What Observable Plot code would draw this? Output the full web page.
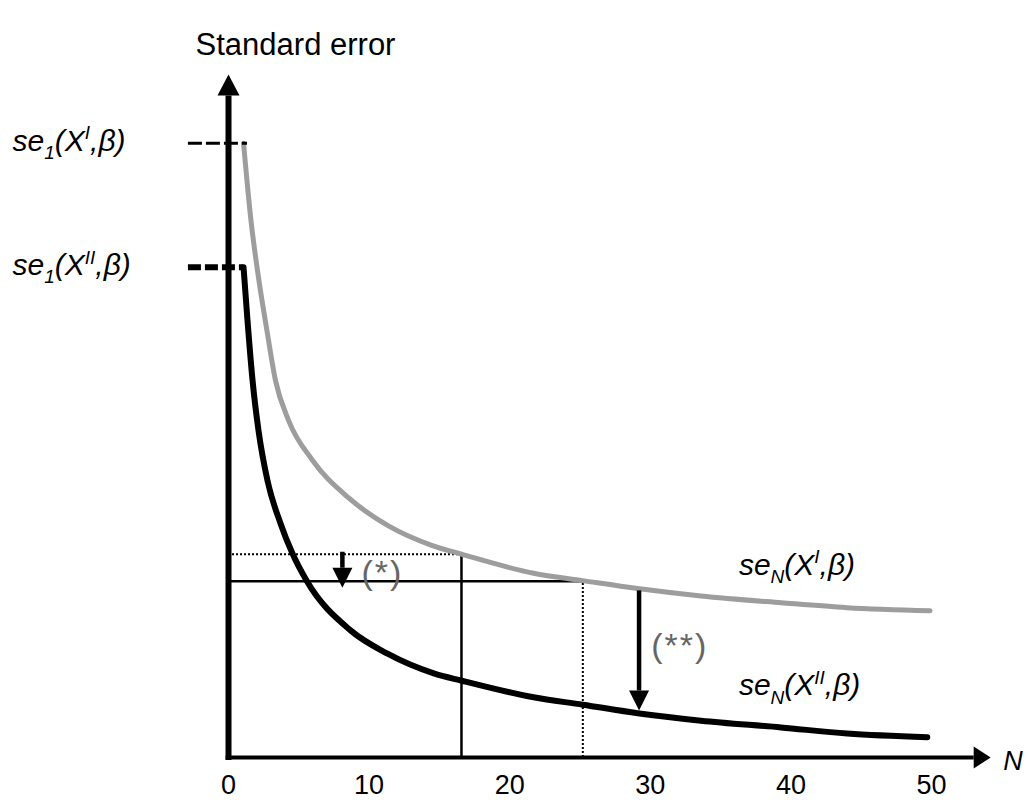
<!DOCTYPE html>
<html>
<head>
<meta charset="utf-8">
<script src="https://cdn.jsdelivr.net/npm/d3@7"></script>
<script src="https://cdn.jsdelivr.net/npm/@observablehq/plot@0.6"></script>
<style>
  html, body { margin: 0; padding: 0; background: #fff; }
  #chart { width: 1028px; height: 800px; overflow: hidden; }
</style>
</head>
<body>
<div id="chart"></div>
<script>
// ---- data (N, standard error in arbitrary units) ----
const greyN  = [1.07, 1.6, 2.06, 2.77, 3.34, 4.27, 5.97, 8.53, 11.38, 14.5, 16.57, 21.7, 25.2, 29.1, 33.6, 39.3, 44.0, 49.9];
const greySE = [1.0, 0.874, 0.793, 0.690, 0.614, 0.549, 0.484, 0.423, 0.377, 0.345, 0.331, 0.300, 0.288, 0.275, 0.263, 0.252, 0.244, 0.239];

const blackN  = [1.07, 1.35, 1.71, 2.13, 2.77, 3.7, 4.55, 5.55, 8.68, 11.31, 14.6, 16.6, 21.7, 25.2, 29.1, 33.6, 39.3, 44.0, 49.7];
const blackSE = [0.798, 0.712, 0.614, 0.533, 0.451, 0.381, 0.332, 0.288, 0.207, 0.169, 0.137, 0.125, 0.098, 0.086, 0.072, 0.060, 0.049, 0.039, 0.033];

const xTicks = [0, 10, 20, 30, 40, 50];

// starting values se_1 shown by the dashes at the left
const se1Values = [1.0, 0.798];
const se1Labels = ["se_{1}(X^{I},β)", "se_{1}(X^{II},β)"];
const se1DashFrom = [-2.85, -2.85];
const se1DashTo = [1.35, 1.07];

// guide lines
const dottedH = {se: 0.331, from: 0, to: 16.57};
const solidH  = {se: 0.287, from: 0, to: 25.2};
const solidV  = {N: 16.57, from: 0, to: 0.331};
const dottedV = {N: 25.2, from: 0, to: 0.287};

// down arrows (*) and (**)
const arrowN    = [8.1, 29.2];
const arrowFrom = [0.335, 0.272];
const arrowBase = [0.309, 0.109];
const arrowText = ["(*)", "(**)"];
const arrowTextN  = [10.95, 32.1];
const arrowTextSE = [0.300, 0.182];

// right-hand curve labels
const endLabels  = ["se_{N}(X^{I},β)", "se_{N}(X^{II},β)"];
const endLabelN  = [36.3, 36.3];
const endLabelSE = [0.313, 0.117];

// ---- tables built from the arrays ----
const grey = greyN.map((n, i) => ({N: n, se: greySE[i]}));
const black = blackN.map((n, i) => ({N: n, se: blackSE[i]}));
const se1 = se1Values.map((v, i) => ({se: v, label: se1Labels[i], from: se1DashFrom[i], to: se1DashTo[i]}));
const arrows = arrowN.map((n, i) => ({N: n, from: arrowFrom[i], base: arrowBase[i], text: arrowText[i], tN: arrowTextN[i], tSE: arrowTextSE[i]}));
const ends = endLabels.map((l, i) => ({label: l, N: endLabelN[i], se: endLabelSE[i]}));

const FONT = "'Liberation Sans', Arial, Helvetica, sans-serif";
const LABEL_FS = 30;

// filled triangular arrow head (base sits at the end of the line)
function head(len, wid) {
  return (color, context) => {
    const doc = (context && context.document) || document;
    const ns = "http://www.w3.org/2000/svg";
    const m = doc.createElementNS(ns, "marker");
    m.setAttribute("viewBox", `0 ${-wid / 2} ${len} ${wid}`);
    m.setAttribute("markerWidth", len);
    m.setAttribute("markerHeight", wid);
    m.setAttribute("markerUnits", "userSpaceOnUse");
    m.setAttribute("refX", 0);
    m.setAttribute("refY", 0);
    m.setAttribute("orient", "auto");
    m.setAttribute("overflow", "visible");
    const p = doc.createElementNS(ns, "path");
    p.setAttribute("d", `M0,${-wid / 2}L${len},0L0,${wid / 2}Z`);
    p.setAttribute("fill", color === "currentColor" ? "black" : color);
    p.setAttribute("stroke", "none");
    m.appendChild(p);
    return m;
  };
}

const chart = Plot.plot({
  width: 1028,
  height: 800,
  marginLeft: 228,
  marginRight: 97,
  marginTop: 74,
  marginBottom: 43,
  style: {fontFamily: FONT, fontSize: "27px", background: "white", color: "black", overflow: "visible"},
  x: {domain: [0, 50], ticks: xTicks, tickSize: 0, tickPadding: 17, label: null, tickFormat: d => String(d)},
  y: {domain: [0, 1.112], axis: null},
  marks: [
    // guide lines
    Plot.ruleY([dottedH], {y: "se", x1: "from", x2: "to", stroke: "black", strokeWidth: 2, strokeDasharray: "2,2"}),
    Plot.ruleY([solidH], {y: "se", x1: "from", x2: "to", stroke: "black", strokeWidth: 2.5}),
    Plot.ruleX([solidV], {x: "N", y1: "from", y2: "to", stroke: "black", strokeWidth: 2.5}),
    Plot.ruleX([dottedV], {x: "N", y1: "from", y2: "to", stroke: "black", strokeWidth: 2, strokeDasharray: "2,2"}),
    // curves
    Plot.line(grey, {x: "N", y: "se", stroke: "#9d9d9d", strokeWidth: 5, curve: "monotone-x"}),
    Plot.line(black, {x: "N", y: "se", stroke: "black", strokeWidth: 6, curve: "monotone-x"}),
    // se_1 dashes
    Plot.ruleY([se1[0]], {y: "se", x1: "from", x2: "to", stroke: "black", strokeWidth: 3, strokeDasharray: "14,4"}),
    Plot.ruleY([se1[1]], {y: "se", x1: "from", x2: "to", stroke: "black", strokeWidth: 6, strokeDasharray: "13,4"}),
    // axes with arrow heads
    Plot.link([0], {x1: 0, x2: 0, y1: -0.004, y2: 1.078, stroke: "black", strokeWidth: 6, markerEnd: head(21, 22)}),
    Plot.link([0], {x1: -0.2, x2: 53.0, y1: 0, y2: 0, stroke: "black", strokeWidth: 4, markerEnd: head(17, 22)}),
    // (*) and (**) arrows
    Plot.link(arrows, {x1: "N", x2: "N", y1: "from", y2: "base", stroke: "black", strokeWidth: 4.5, markerEnd: head(20, 20)}),
    Plot.text(arrows, {x: "tN", y: "tSE", text: "text", fill: "#666", fontSize: 34, fontFamily: FONT}),
    // labels
    Plot.text(["Standard error"], {frameAnchor: "top-left", dx: 67, dy: -42, fontSize: 31, fontFamily: FONT, textAnchor: "middle", fill: "black"}),
    Plot.text(se1, {y: "se", text: "label", frameAnchor: "left", dx: -216, dy: -2, textAnchor: "start", fontSize: LABEL_FS, fontStyle: "italic", fontFamily: FONT, fill: "black"}),
    Plot.text(ends, {x: "N", y: "se", text: "label", textAnchor: "start", fontSize: LABEL_FS, fontStyle: "italic", fontFamily: FONT, fill: "black"}),
    Plot.text(["N"], {x: 55.1, y: 0, text: d => d, dy: 4, textAnchor: "start", fontSize: 27, fontStyle: "italic", fontFamily: FONT, fill: "black"})
  ]
});

// turn _{..} and ^{..} markup into real sub/superscript tspans; space out the (*) marks
function rich(svg, fs) {
  const ns = "http://www.w3.org/2000/svg";
  const small = Math.round(fs * 0.62);
  const subDy = fs * 0.28, supDy = -fs * 0.38;
  for (const t of svg.querySelectorAll("text")) {
    const s = t.textContent;
    if (/^\(\*+\)$/.test(s)) { t.setAttribute("letter-spacing", "2"); continue; }
    if (!/[_^]\{/.test(s)) continue;
    t.textContent = "";
    let cur = 0, m;
    const re = /([_^])\{([^}]*)\}|([^_^]+)/g;
    while ((m = re.exec(s))) {
      const ts = document.createElementNS(ns, "tspan");
      let target, size = null, txt;
      if (m[3] !== undefined) { target = 0; txt = m[3]; }
      else { target = m[1] === "_" ? subDy : supDy; size = small; txt = m[2]; }
      ts.setAttribute("dy", (target - cur).toFixed(2));
      cur = target;
      if (size) ts.setAttribute("font-size", size);
      ts.textContent = txt;
      t.appendChild(ts);
    }
  }
}
rich(chart, LABEL_FS);

document.getElementById("chart").appendChild(chart);
</script>
</body>
</html>
